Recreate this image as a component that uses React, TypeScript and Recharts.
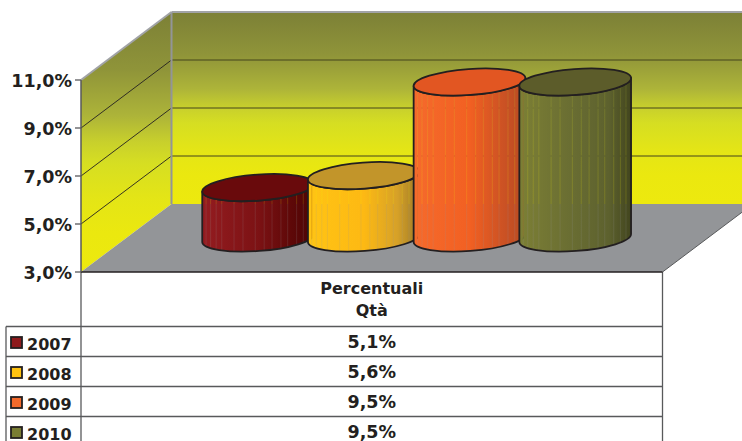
import { BarChart, Bar, XAxis, YAxis, Customized } from "recharts";

const YEARS = ["2007", "2008", "2009", "2010"];
const VALUES = [5.1, 5.6, 9.5, 9.5];
const TICKS = [3, 5, 7, 9, 11];
const HEADER = ["Percentuali", "Qtà"];
const BAR_COLORS = ["#8e1a1c", "#ffc20f", "#f46a2b", "#7a7d33"];
const TOP_COLORS = ["#690a0c", "#c2952a", "#e25622", "#5c5c2a"];
const BODY_STOPS = [
  ["#941c20", "#7c1214", "#5e0808", "#4c0505"],
  ["#ffc414", "#fdb913", "#d6a128", "#9c7826"],
  ["#f56a2c", "#f26022", "#cc5224", "#b84a22"],
  ["#7c7f35", "#686c32", "#5d612e", "#42451e"],
];
const STRIPES = [0.03, 0.07, 0.12, 0.17, 0.28, 0.36, 0.47, 0.55, 0.62, 0.7, 0.76, 0.84, 0.9, 0.95];

const W = 742;
const H = 441;
const FRONT_LEFT = 81;
const FRONT_RIGHT = 662.5;
const FRONT_TOP = 80;
const FRONT_BOTTOM = 272;
const DEPTH_X = 90.5;
const DEPTH_Y = 68;
const TABLE_LEFT = 6;
const TABLE_TOP = 326.5;
const ROW_H = 30;
const FONT = "'DejaVu Sans', sans-serif";
const INK = "#231f20";
const LINE = "#58595b";

const rows = [
  YEARS.reduce<Record<string, string | number>>(
    (row, year, i) => {
      row[year] = VALUES[i];
      return row;
    },
    { label: HEADER.join(" ") }
  ),
];

const yOf = (v: number) =>
  FRONT_BOTTOM - ((v - TICKS[0]) / (TICKS[TICKS.length - 1] - TICKS[0])) * (FRONT_BOTTOM - FRONT_TOP);
const pct = (v: number) => v.toFixed(1).replace(".", ",") + "%";

function Walls() {
  const backLeft = FRONT_LEFT + DEPTH_X;
  const backBottom = FRONT_BOTTOM - DEPTH_Y;
  const backTop = FRONT_TOP - DEPTH_Y;
  return (
    <g>
      <defs>
        <linearGradient id="wall" x1="0" y1="0" x2="0" y2="1">
          <stop offset="0" stopColor="#7c8036" />
          <stop offset="0.22" stopColor="#8f9439" />
          <stop offset="0.4" stopColor="#adb439" />
          <stop offset="0.5" stopColor="#c8d02c" />
          <stop offset="0.58" stopColor="#d6de22" />
          <stop offset="0.72" stopColor="#e4e516" />
          <stop offset="0.85" stopColor="#ebe80f" />
          <stop offset="1" stopColor="#ede90e" />
        </linearGradient>
      </defs>
      <rect x={backLeft} y={backTop} width={W - backLeft} height={backBottom - backTop} fill="url(#wall)" />
      <polygon
        points={`${FRONT_LEFT},${FRONT_TOP} ${backLeft},${backTop} ${backLeft},${backBottom} ${FRONT_LEFT},${FRONT_BOTTOM}`}
        fill="url(#wall)"
      />
      <polygon
        points={`${FRONT_LEFT},${FRONT_BOTTOM} ${backLeft},${backBottom} ${FRONT_RIGHT + DEPTH_X},${backBottom} ${FRONT_RIGHT},${FRONT_BOTTOM}`}
        fill="#939598"
      />
      <line x1={FRONT_RIGHT} y1={FRONT_BOTTOM} x2={FRONT_RIGHT + DEPTH_X} y2={backBottom} stroke={LINE} strokeWidth={1} />
      {TICKS.slice(1, -1).map((t) => (
        <g key={t}>
          <line x1={backLeft} y1={yOf(t) - DEPTH_Y} x2={W} y2={yOf(t) - DEPTH_Y} stroke="#45451c" strokeWidth={1} />
          <line x1={FRONT_LEFT} y1={yOf(t)} x2={backLeft} y2={yOf(t) - DEPTH_Y} stroke={INK} strokeWidth={0.9} />
        </g>
      ))}
      <line x1={backLeft} y1={backTop} x2={W} y2={backTop} stroke="#a1a3a6" strokeWidth={2} />
      <line x1={backLeft} y1={backTop} x2={backLeft} y2={backBottom} stroke="#939598" strokeWidth={2} />
      <line x1={FRONT_LEFT} y1={FRONT_TOP} x2={backLeft} y2={backTop} stroke="#a1a3a6" strokeWidth={2} />
    </g>
  );
}

function Cylinder(props: any) {
  const { x, y, width, height, index } = props;
  const rx = 56;
  const ry = 13;
  const tilt = -4.2;
  const rad = (tilt * Math.PI) / 180;
  const dx = rx * Math.cos(rad);
  const dy = rx * Math.sin(rad);
  const cx = x + width / 2 + DEPTH_X / 2;
  const top = y - DEPTH_Y / 2;
  const base = top + height;
  const body =
    `M${cx - dx},${top - dy} L${cx - dx},${base - dy} ` +
    `A${rx},${ry} ${tilt} 0 0 ${cx + dx},${base + dy} ` +
    `L${cx + dx},${top + dy} A${rx},${ry} ${tilt} 0 1 ${cx - dx},${top - dy} Z`;
  const stops = BODY_STOPS[index];
  return (
    <g>
      <defs>
        <linearGradient id={`body${index}`} x1="0" y1="0" x2="1" y2="0">
          <stop offset="0" stopColor={stops[0]} />
          <stop offset="0.5" stopColor={stops[1]} />
          <stop offset="0.8" stopColor={stops[2]} />
          <stop offset="1" stopColor={stops[3]} />
        </linearGradient>
        <mask id={`stripes${index}`} maskUnits="userSpaceOnUse" x={cx - rx - 4} y={top - ry - 12} width={rx * 2 + 8} height={height + 2 * ry + 24}>
          <rect x={cx - rx - 4} y={top - ry - 12} width={rx * 2 + 8} height={height + 2 * ry + 24} fill="#fff" />
          {STRIPES.map((s) => (
            <rect key={s} x={cx - dx + s * 2 * dx} y={top - ry - 12} width={1} height={height + 2 * ry + 24} fill="#d4d4d4" />
          ))}
        </mask>
      </defs>
      <path d={body} fill={`url(#body${index})`} mask={`url(#stripes${index})`} />
      <path d={body} fill="none" stroke={INK} strokeWidth={1.8} strokeLinejoin="round" />
      <ellipse cx={cx} cy={top} rx={rx} ry={ry} transform={`rotate(${tilt} ${cx} ${top})`} fill={TOP_COLORS[index]} stroke={INK} strokeWidth={1.8} />
    </g>
  );
}

function HeaderTick(props: any) {
  const { x, y } = props;
  return (
    <text x={x} y={y} textAnchor="middle" fontFamily={FONT} fontWeight="bold" fontSize={16} fill={INK}>
      {HEADER.map((line, i) => (
        <tspan key={line} x={x} y={y + 21.5 + i * 22}>
          {line}
        </tspan>
      ))}
    </text>
  );
}

function DataTable() {
  const lines = YEARS.map((_, i) => TABLE_TOP + i * ROW_H);
  return (
    <g>
      {lines.map((ly) => (
        <line key={ly} x1={TABLE_LEFT} y1={ly} x2={FRONT_RIGHT} y2={ly} stroke={LINE} strokeWidth={1.3} />
      ))}
      <line x1={TABLE_LEFT} y1={TABLE_TOP} x2={TABLE_LEFT} y2={H} stroke={LINE} strokeWidth={1.3} />
      <line x1={FRONT_LEFT} y1={FRONT_BOTTOM} x2={FRONT_LEFT} y2={H} stroke={LINE} strokeWidth={1.3} />
      <line x1={FRONT_RIGHT} y1={FRONT_BOTTOM} x2={FRONT_RIGHT} y2={H} stroke={LINE} strokeWidth={1.3} />
      {YEARS.map((year, i) => {
        const mid = TABLE_TOP + i * ROW_H + ROW_H / 2;
        return (
          <g key={year}>
            <rect x={11} y={mid - 4.5} width={11} height={11} fill={BAR_COLORS[i]} stroke={INK} strokeWidth={1.8} />
            <text x={27} y={mid + 8} fontFamily={FONT} fontWeight="bold" fontSize={16} fill={INK}>
              {year}
            </text>
            <text x={(FRONT_LEFT + FRONT_RIGHT) / 2} y={mid + 6} textAnchor="middle" fontFamily={FONT} fontWeight="bold" fontSize={17.5} fill={INK}>
              {pct(VALUES[i])}
            </text>
          </g>
        );
      })}
    </g>
  );
}

export default function App() {
  return (
    <div style={{ position: "absolute", left: 0, top: 0, width: W, height: H, overflow: "hidden", background: "#fff" }}>
      <BarChart
        width={W}
        height={H}
        data={rows}
        barGap={0}
        barSize={105.7}
        margin={{ top: FRONT_TOP, right: W - FRONT_RIGHT, bottom: H - FRONT_BOTTOM - 54.5, left: 0 }}
      >
        <Customized component={<Walls />} />
        <XAxis dataKey="label" height={54.5} axisLine={{ stroke: INK, strokeWidth: 1.5 }} tickLine={false} tickSize={0} tickMargin={0} tick={<HeaderTick />} interval={0} />
        <YAxis
          width={FRONT_LEFT}
          domain={[TICKS[0], TICKS[TICKS.length - 1]]}
          ticks={TICKS}
          tickFormatter={pct}
          axisLine={{ stroke: LINE, strokeWidth: 1.5 }}
          tickLine={{ stroke: LINE, strokeWidth: 1.3 }}
          tickSize={6}
          tickMargin={3}
          tick={{ fontFamily: FONT, fontWeight: "bold", fontSize: 17.5, fill: INK, dy: 1 }}
        />
        {YEARS.map((year, i) => (
          <Bar key={year} dataKey={year} isAnimationActive={false} fill={BAR_COLORS[i]} shape={(p: any) => <Cylinder {...p} index={i} />} />
        ))}
        <Customized component={<DataTable />} />
      </BarChart>
    </div>
  );
}
